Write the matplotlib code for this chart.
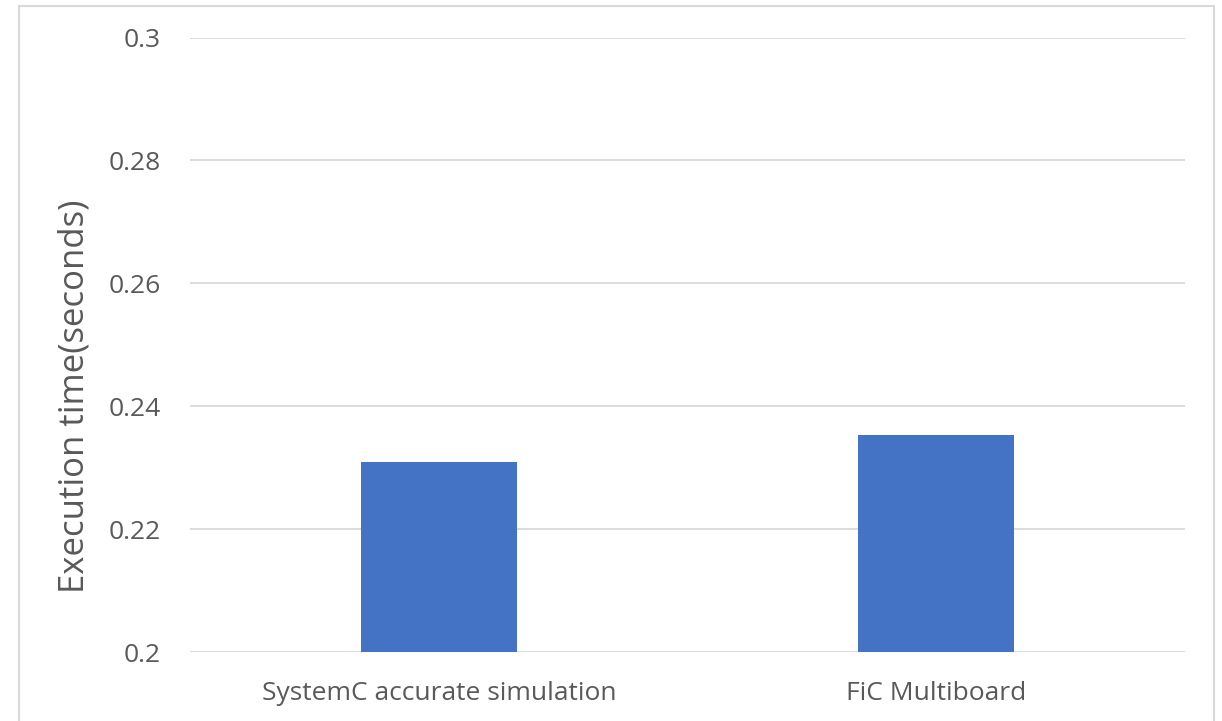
import matplotlib
matplotlib.use("Agg")
import matplotlib.pyplot as plt
from matplotlib.patches import Rectangle

categories = ["SystemC accurate simulation", "FiC Multiboard"]
exec_time = [0.2310, 0.2353]
y_ticks = [0.2, 0.22, 0.24, 0.26, 0.28, 0.3]
y_tick_labels = ["0.2", "0.22", "0.24", "0.26", "0.28", "0.3"]

plt.rcParams["font.family"] = ["Open Sans", "DejaVu Sans"]
text_color = "#595959"
grid_color = "#d9d9d9"
bar_color = "#4472c4"

W, H = 1222, 721
fig = plt.figure(figsize=(W / 100, H / 100), dpi=100)

# chart-area frame
fig.patches.append(Rectangle((19 / W, -0.05), (1214 - 19) / W, 1.05 - 6 / H,
                             transform=fig.transFigure, fill=False,
                             edgecolor="#d9d9d9", linewidth=1.5))

ax = fig.add_axes([190 / W, 1 - 652 / H, (1185 - 190) / W, (652 - 37.5) / H])
x = range(len(categories))
ax.bar(x, exec_time, width=0.314, color=bar_color, zorder=3)
ax.set_xlim(-0.5, len(categories) - 0.5)
ax.set_ylim(0.2, 0.3)
ax.set_yticks(y_ticks)
ax.set_yticklabels(y_tick_labels)
ax.set_xticks(list(x))
ax.set_xticklabels(categories)
ax.grid(axis="y", color=grid_color, linewidth=1.3, zorder=0)
for s in ax.spines.values():
    s.set_visible(False)
ax.tick_params(axis="both", length=0, labelsize=19, colors=text_color)
ax.tick_params(axis="y", pad=21)
ax.tick_params(axis="x", pad=21)
ax.set_ylabel("Execution time(seconds)", fontsize=25, color=text_color)
ax.yaxis.set_label_coords(-0.0985, 0.4166)

fig.savefig("out.png", dpi=100)
